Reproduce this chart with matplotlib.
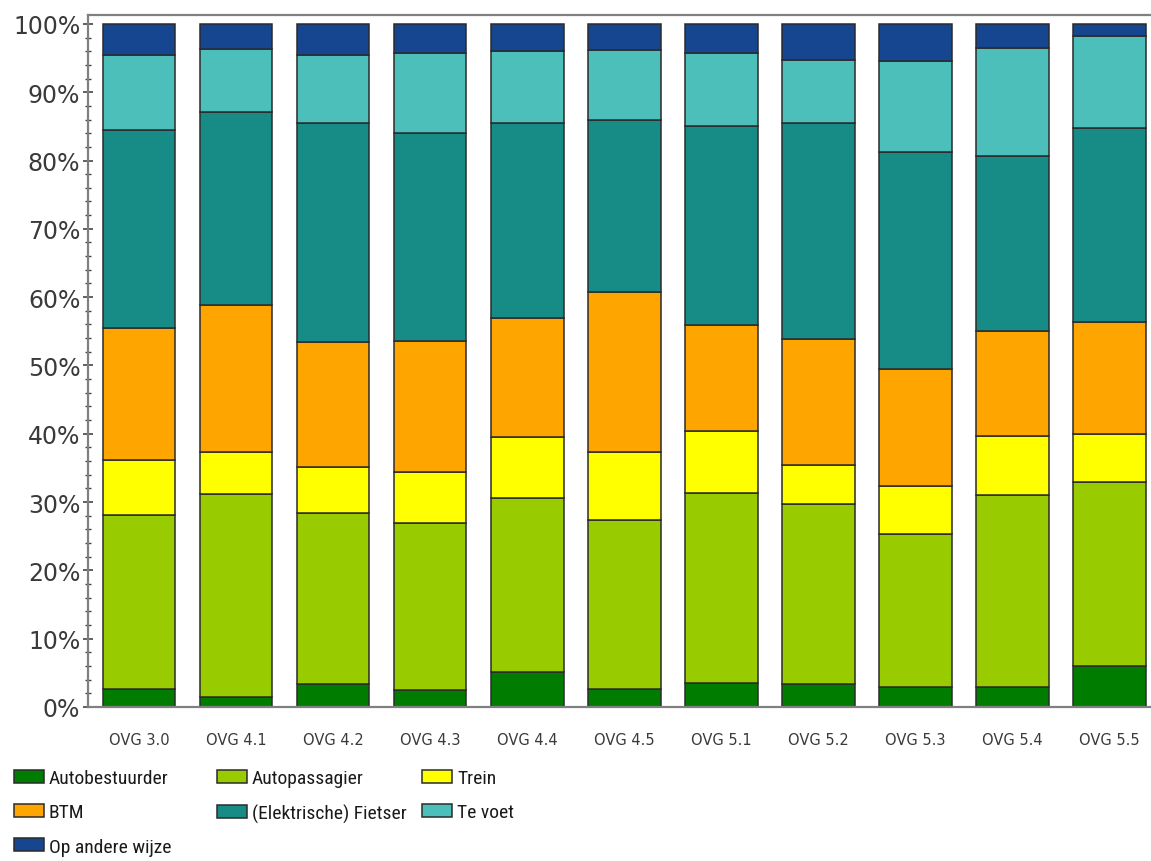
import matplotlib
matplotlib.use("Agg")
import matplotlib.pyplot as plt
from matplotlib import font_manager
from matplotlib.ticker import MultipleLocator, FuncFormatter
from matplotlib.patches import Patch
import numpy as np

categories = ["OVG 3.0", "OVG 4.1", "OVG 4.2", "OVG 4.3", "OVG 4.4", "OVG 4.5",
              "OVG 5.1", "OVG 5.2", "OVG 5.3", "OVG 5.4", "OVG 5.5"]

autobestuurder = [2.6, 1.5, 3.4, 2.5, 5.1, 2.7, 3.5, 3.4, 2.9, 2.9, 6.0]
autopassagier = [25.5, 29.7, 25.0, 24.4, 25.5, 24.7, 27.9, 26.3, 22.4, 28.2, 27.0]
trein = [8.0, 6.2, 6.8, 7.5, 8.9, 9.9, 9.0, 5.7, 7.1, 8.5, 7.0]
btm = [19.4, 21.4, 18.2, 19.2, 17.4, 23.4, 15.5, 18.5, 17.1, 15.4, 16.3]
fietser = [28.9, 28.3, 32.1, 30.4, 28.6, 25.3, 29.1, 31.6, 31.8, 25.6, 28.4]
te_voet = [11.1, 9.2, 10.0, 11.8, 10.5, 10.2, 10.8, 9.2, 13.2, 15.8, 13.5]
op_andere_wijze = [4.5, 3.7, 4.5, 4.2, 4.0, 3.8, 4.2, 5.3, 5.5, 3.6, 1.8]

series_names = ["Autobestuurder", "Autopassagier", "Trein", "BTM",
                "(Elektrische) Fietser", "Te voet", "Op andere wijze"]
series_values = [autobestuurder, autopassagier, trein, btm, fietser, te_voet, op_andere_wijze]
series_colors = ["#007D00", "#99CC00", "#FFFF00", "#FFA500",
                 "#178B86", "#4DBFBA", "#15468F"]

edge = "#2b2b2b"
entries = font_manager.fontManager.ttflist


def regular_dejavu(size):
    """Plain upright DejaVu Sans for the axis labels."""
    for f in entries:
        if f.fname.endswith("DejaVuSans.ttf"):
            return font_manager.FontProperties(fname=f.fname, size=size)
    return font_manager.FontProperties(family="DejaVu Sans", size=size)


def narrow_font(size):
    """Pick a condensed sans face if one is installed, else plain Liberation Sans."""
    wanted = ["Liberation Sans Narrow", "Arial Narrow", "DejaVu Sans Condensed",
              "Roboto Condensed", "Open Sans Condensed"]
    for name in wanted:
        for f in entries:
            if f.name == name and f.style == "normal" and f.weight in (400, "normal", "regular"):
                return font_manager.FontProperties(fname=f.fname, size=size)
    for f in entries:
        if (("Condensed" in f.fname or "Narrow" in f.fname)
                and "Bold" not in f.fname and "Oblique" not in f.fname
                and "Italic" not in f.fname):
            return font_manager.FontProperties(fname=f.fname, size=size)
    return font_manager.FontProperties(family="Liberation Sans", size=size * 0.85)


fig = plt.figure(figsize=(11.51, 8.62), dpi=100)
ax = fig.add_axes([88 / 1151, 154 / 862, 1 - 88 / 1151, (708 - 16) / 862])

x = np.arange(len(categories))
bottom = np.zeros(len(categories))
for name, vals, col in zip(series_names, series_values, series_colors):
    v = np.array(vals)
    ax.bar(x, v, bottom=bottom, width=0.75, color=col, edgecolor=edge,
           linewidth=1.1, label=name, zorder=2)
    bottom += v

ax.set_xlim(-0.526, 10.43)
ax.set_ylim(0, 101.3)

ax.yaxis.set_major_locator(MultipleLocator(10))
ax.yaxis.set_minor_locator(MultipleLocator(2))
ax.yaxis.set_major_formatter(FuncFormatter(lambda v, p: f"{v:.0f}%"))
ax.tick_params(axis="y", which="major", direction="inout", length=7, width=1.2,
               colors="#444444", pad=2, labelcolor="#3a3a3a")
ax.tick_params(axis="y", which="minor", direction="inout", length=4, width=1.0,
               colors="#444444")

ax.set_xticks(x)
ax.set_xticklabels(categories)
ax.tick_params(axis="x", length=0, pad=18, labelcolor="#3a3a3a")

ytick_prop = regular_dejavu(17)
xtick_prop = regular_dejavu(10.5)
fig.canvas.draw()
for lbl in ax.get_yticklabels():
    lbl.set_fontproperties(ytick_prop)
for lbl in ax.get_xticklabels():
    lbl.set_fontproperties(xtick_prop)

for side in ["left", "bottom", "top"]:
    ax.spines[side].set_color("#808080")
    ax.spines[side].set_linewidth(1.6)
ax.spines["right"].set_visible(False)

# Legend in three fixed columns below the plot
legend_prop = narrow_font(14)
columns = [
    [0, 3, 6],
    [1, 4],
    [2, 5],
]
col_x = [14 / 1151, 217 / 1151, 422 / 1151]
fs = legend_prop.get_size_in_points()
px = fs * 100 / 72
for cx, idxs in zip(col_x, columns):
    handles = [Patch(facecolor=series_colors[i], edgecolor=edge, linewidth=1.1)
               for i in idxs]
    labels = [series_names[i] for i in idxs]
    leg = fig.legend(handles, labels, loc="upper left",
                     bbox_to_anchor=(cx, 1 - 770 / 862),
                     frameon=False, prop=legend_prop,
                     handlelength=30 / px, handleheight=13 / px,
                     handletextpad=5 / px,
                     labelspacing=0.84,
                     borderaxespad=0, borderpad=0)
    for t in leg.get_texts():
        t.set_color("#1a1a1a")

fig.savefig("out.png", dpi=100)
